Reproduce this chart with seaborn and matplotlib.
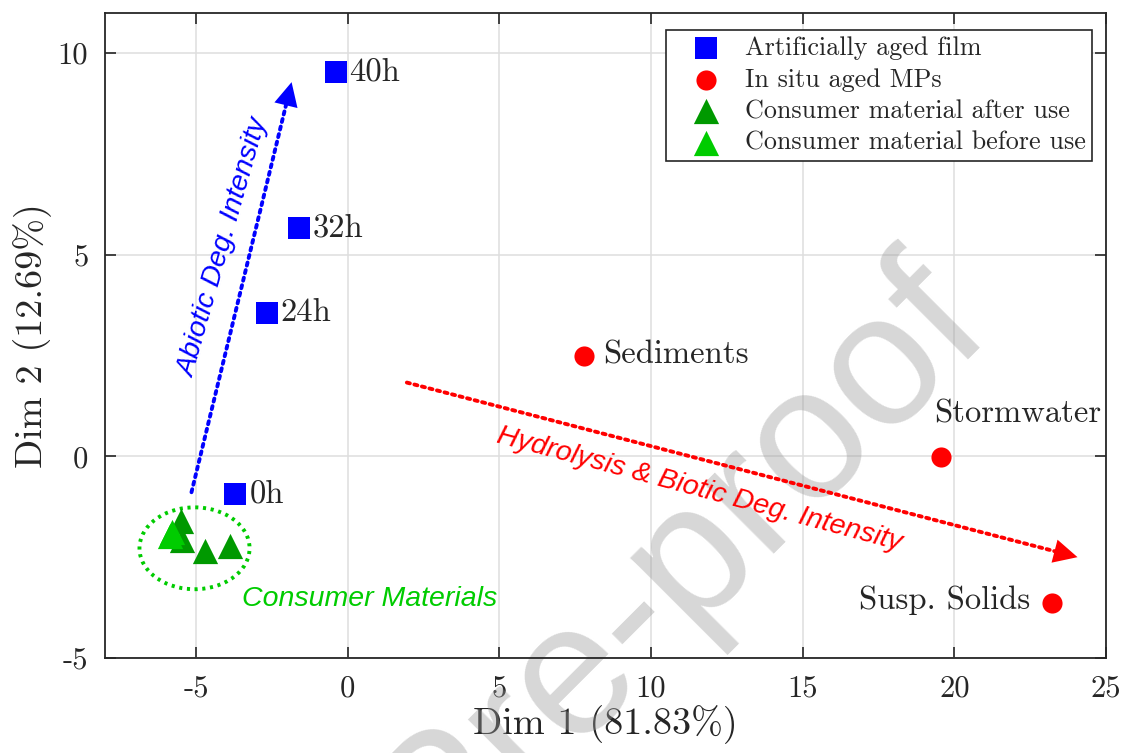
import numpy as np
import pandas as pd
import matplotlib
matplotlib.use("Agg")
import matplotlib.pyplot as plt
import seaborn as sns
from matplotlib.patches import Ellipse

# ---------------- data ----------------
film_x = [-0.4, -1.6, -2.67, -3.7]
film_y = [9.53, 5.67, 3.56, -0.94]
film_lbl = ["40h", "32h", "24h", "0h"]

insitu_x = [7.79, 19.57, 23.23]
insitu_y = [2.48, -0.02, -3.64]
insitu_lbl = ["Sediments", "Stormwater", "Susp. Solids"]

after_x = [-5.48, -5.45, -4.69, -3.89]
after_y = [-1.61, -2.08, -2.35, -2.23]

before_x = [-5.78, -5.87]
before_y = [-1.88, -1.98]

group_names = ["Artificially aged film", "In situ aged MPs",
               "Consumer material after use", "Consumer material before use"]

x_label = "Dim 1 (81.83%)"
y_label = "Dim 2 (12.69%)"
x_ticks = [-5, 0, 5, 10, 15, 20, 25]
y_ticks = [-5, 0, 5, 10]

abiotic_arrow = [(-5.15, -0.89), (-1.85, 9.28)]
biotic_arrow = [(1.95, 1.83), (24.06, -2.5)]

# ---------------- style ----------------
sns.set_theme(style="whitegrid")
plt.rcParams["font.family"] = ["cmr10", "DejaVu Serif"]
plt.rcParams["axes.unicode_minus"] = False
plt.rcParams["axes.formatter.use_mathtext"] = False

fig = plt.figure(figsize=(11.27, 7.53), dpi=100)
ax = fig.add_axes([0.0932, 0.1262, 0.9814 - 0.0932, 0.983 - 0.1262])
ax.set_facecolor("white")

df = pd.concat([
    pd.DataFrame({"x": film_x, "y": film_y, "g": group_names[0]}),
    pd.DataFrame({"x": insitu_x, "y": insitu_y, "g": group_names[1]}),
    pd.DataFrame({"x": after_x, "y": after_y, "g": group_names[2]}),
    pd.DataFrame({"x": before_x, "y": before_y, "g": group_names[3]}),
])

colors = {group_names[0]: "#0000FF", group_names[1]: "#FF0000",
          group_names[2]: "#009900", group_names[3]: "#00CC00"}
markers = {group_names[0]: "s", group_names[1]: "o",
           group_names[2]: "^", group_names[3]: "^"}
sizes = {group_names[0]: 265, group_names[1]: 210,
         group_names[2]: 330, group_names[3]: 330}

for g in group_names:
    sub = df[df["g"] == g]
    sns.scatterplot(data=sub, x="x", y="y", color=colors[g], marker=markers[g],
                    s=sizes[g], linewidth=0, ax=ax, label=g, zorder=3)

# point labels
film_off = [(10, 0)] * 4
for x, y, t, o in zip(film_x, film_y, film_lbl, film_off):
    ax.annotate(t, (x, y), xytext=o, textcoords="offset points",
                ha="left", va="center", fontsize=23.5, zorder=4)
insitu_off = [(14, 1), (-5, 31), (-16, 2)]
insitu_ha = ["left", "left", "right"]
for x, y, t, o, h in zip(insitu_x, insitu_y, insitu_lbl, insitu_off, insitu_ha):
    ax.annotate(t, (x, y), xytext=o, textcoords="offset points",
                ha=h, va="center", fontsize=23.5, zorder=4)

# arrows
for (s, e), col in [(abiotic_arrow, "#0000FF"), (biotic_arrow, "#FF0000")]:
    ax.annotate("", xy=e, xytext=s,
                arrowprops=dict(arrowstyle="-", linestyle=(0, (0.8, 1.2)),
                                lw=2.8, color=col, shrinkA=0, shrinkB=8), zorder=4)
    ax.annotate("", xy=e, xytext=(e[0] - (e[0] - s[0]) * 0.03, e[1] - (e[1] - s[1]) * 0.03),
                arrowprops=dict(arrowstyle="-|>,head_length=0.9,head_width=0.45",
                                lw=0, color=col, mutation_scale=19,
                                shrinkA=0, shrinkB=0), zorder=4)

ax.text(-4.09, 5.17, "Abiotic Deg. Intensity", color="#0000FF", rotation=74,
        rotation_mode="anchor", ha="center", va="center", fontsize=20.5,
        family="Liberation Sans", style="italic", zorder=4)
ax.text(11.58, -0.82, "Hydrolysis & Biotic Deg. Intensity", color="#FF0000",
        rotation=-15, rotation_mode="anchor", ha="center", va="center", fontsize=20.5,
        family="Liberation Sans", style="italic", zorder=4)
ax.text(0.73, -3.54, "Consumer Materials", color="#00CC00", ha="center",
        va="center", fontsize=20.5, family="Liberation Sans", style="italic", zorder=4)

ax.add_patch(Ellipse((-5.05, -2.28), 3.63, 2.03, fill=False, edgecolor="#00CC00",
                     linestyle=(0, (0.8, 1.2)), lw=2.8, zorder=2.5))

# watermark
ax.text(0.603, 0.25, "Pre-proof", transform=fig.transFigure, rotation=45,
        rotation_mode="anchor", ha="center", va="center", fontsize=135,
        family="Liberation Sans", color="#9a9a9a", alpha=0.4, zorder=1.6,
        clip_on=False)

# axes
ax.set_xlim(-8, 25)
ax.set_ylim(-5, 11)
ax.set_xticks(x_ticks)
ax.set_yticks(y_ticks)
ax.set_xlabel(x_label, fontsize=27.5, labelpad=2)
ax.set_ylabel(y_label, fontsize=27.5, labelpad=4)
ax.tick_params(axis="both", which="both", direction="in", length=8, width=1.2,
               labelsize=22, color="#262626", top=True, right=True,
               bottom=True, left=True, pad=12)
ax.grid(True, color="#dedede", lw=1.1)
for sp in ax.spines.values():
    sp.set_visible(True)
    sp.set_color("#262626")
    sp.set_linewidth(1.3)

leg = ax.legend(loc="upper right", bbox_to_anchor=(0.986, 0.9736), fontsize=18.8,
                frameon=True, fancybox=False, framealpha=1, edgecolor="#262626",
                handletextpad=0.2, borderpad=0.25, labelspacing=0.3,
                handlelength=2.55, markerscale=1.0, borderaxespad=0)
leg.get_frame().set_linewidth(1.2)
leg.set_zorder(5)

fig.savefig("out.png", dpi=100)
